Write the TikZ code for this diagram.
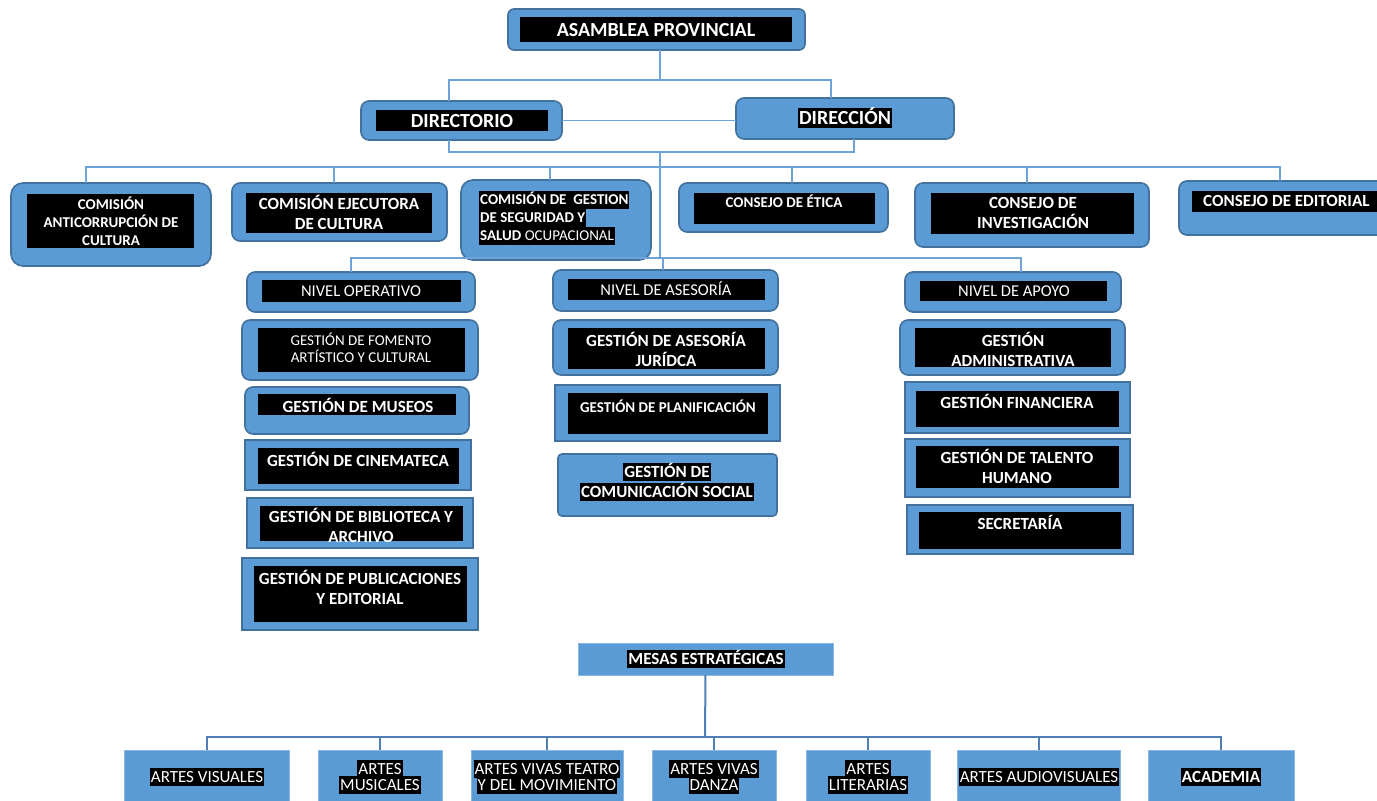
\documentclass[tikz,border=0pt]{standalone}
\usepackage{fontspec}
\setmainfont{Carlito}
\definecolor{fillb}{HTML}{5B9BD5}
\definecolor{bdr}{HTML}{41719C}
\definecolor{lineb}{HTML}{6FA3D8}
\definecolor{lined}{HTML}{4F7FB5}
\newcommand\mkbox[6]{\node[#6, minimum width={(#4-#2)*1pt}, minimum height={(#5-#3)*1pt}] (#1) at ({(#2+#4)/2},{(#3+#5)/2}) {};}
\tikzset{
  rb/.style={draw=bdr, fill=fillb, line width=1.6pt, rounded corners=8pt, inner sep=0pt, outer sep=0pt},
  sq/.style={draw=bdr, fill=fillb, line width=1.6pt, inner sep=0pt, outer sep=0pt},
  fl/.style={draw=fillb!70!white, fill=fillb, line width=0.8pt, inner sep=0pt, outer sep=0pt},
  blk/.style={fill=black, draw=none, inner sep=0pt, outer sep=0pt},
  tb/.style={text=white, font=\bfseries\fontsize{17}{19.5}\selectfont, align=center, inner sep=0pt},
  tbs/.style={text=white, font=\bfseries\fontsize{15}{18}\selectfont, align=center, inner sep=0pt},
  tr/.style={text=white, font=\fontsize{16.5}{19}\selectfont, align=center, inner sep=0pt},
  hl/.style={fill=black, text=white, inner xsep=1pt, inner ysep=0pt, text height=13.8pt, text depth=3.4pt},
  hl20/.style={hl, text height=16pt, text depth=4pt, font=\bfseries\fontsize{20}{24}\selectfont},
  hl15/.style={hl, text height=13pt, text depth=5pt, font=\bfseries\fontsize{15}{18}\selectfont},
  conn/.style={draw=lineb, line width=1.3pt},
  connd/.style={draw=lined, line width=2pt},
}
\begin{document}
\begin{tikzpicture}[x=1pt,y=-1pt]
\useasboundingbox (0,0) rectangle (1377,801);
\fill[white] (0,0) rectangle (1377,801);

% ---------- outer boxes ----------
\mkbox{asam}{508}{9}{805}{50}{rb, rounded corners=6pt}
\mkbox{dtor}{361}{101}{562}{140}{rb}
\mkbox{dcion}{736}{98}{954}{139}{rb}
\mkbox{c1}{11}{183}{211}{266}{rb, rounded corners=12pt}
\mkbox{c2}{232}{183}{447}{241}{rb}
\mkbox{c3}{461}{180}{651}{260}{rb, rounded corners=12pt}
\mkbox{c4}{679}{183}{888}{232}{rb}
\mkbox{c5}{915}{183}{1149}{247}{rb}
\mkbox{c6}{1179}{181}{1390}{235}{rb}
\mkbox{nop}{247}{272}{475}{312}{rb}
\mkbox{nas}{553}{270}{778}{311}{rb}
\mkbox{nap}{905}{272}{1121}{312}{rb}
\mkbox{g1}{242}{320}{478}{380}{rb}
\mkbox{g2}{245}{387}{469}{434}{rb}
\mkbox{g3}{245}{440}{471}{490}{sq}
\mkbox{g4}{247}{498}{473}{548}{sq}
\mkbox{g5}{242}{558}{478}{630}{sq}
\mkbox{a1}{553}{320}{778}{375}{rb}
\mkbox{a2}{555}{385}{780}{441}{sq}
\mkbox{a3}{558}{454}{777}{516}{rb, rounded corners=4pt}
\mkbox{p1}{900}{320}{1125}{375}{rb}
\mkbox{p2}{905}{382}{1130}{433}{sq}
\mkbox{p3}{905}{439}{1130}{497}{sq}
\mkbox{p4}{907}{505}{1133}{554}{sq}
\mkbox{mesas}{578}{643}{833}{675}{fl}
\mkbox{b1}{124}{750}{289}{812}{fl}
\mkbox{b2}{318}{750}{442}{812}{fl}
\mkbox{b3}{471}{750}{623}{812}{fl}
\mkbox{b4}{652}{750}{776}{812}{fl}
\mkbox{b5}{806}{750}{930}{812}{fl}
\mkbox{b6}{957}{750}{1120}{812}{fl}
\mkbox{b7}{1148}{750}{1294}{812}{fl}

% ---------- inner black panels ----------
\mkbox{asamI}{520}{17}{792}{42}{blk}
\mkbox{dtorI}{376}{110}{548}{131}{blk}
\mkbox{c1I}{27}{194}{194}{248}{blk}
\mkbox{c2I}{246}{193}{432}{233}{blk}
\mkbox{c4I}{694}{193}{875}{224}{blk}
\mkbox{c5I}{931}{193}{1134}{234}{blk}
\mkbox{c6I}{1192}{191}{1390}{212}{blk}
\mkbox{nopI}{262}{280}{461}{302}{blk}
\mkbox{nasI}{568}{279}{765}{300}{blk}
\mkbox{napI}{920}{281}{1107}{301}{blk}
\mkbox{g1I}{258}{328}{465}{372}{blk}
\mkbox{g2I}{258}{394}{456}{415}{blk}
\mkbox{g3I}{258}{448}{459}{484}{blk}
\mkbox{g4I}{260}{506}{463}{541}{blk}
\mkbox{g5I}{254}{566}{467}{622}{blk}
\mkbox{a1I}{568}{328}{765}{369}{blk}
\mkbox{a2I}{568}{393}{768}{434}{blk}
\mkbox{p1I}{915}{328}{1111}{367}{blk}
\mkbox{p2I}{916}{391}{1119}{427}{blk}
\mkbox{p3I}{916}{446}{1119}{488}{blk}
\mkbox{p4I}{919}{512}{1121}{549}{blk}

% ---------- connectors ----------
\coordinate (j1) at (660,80);
\coordinate (j2) at (660,152);
\coordinate (j3) at (660,167);
\coordinate (j4) at (660,258);
\coordinate (j5) at (705,737);
\draw[conn] ([xshift=3.5pt]asam.south) -- (j1);
\draw[conn] ([xshift=-12.5pt]dtor.north) |- (j1) -| ([xshift=-14pt]dcion.north);
\draw[conn] (dtor.east) -- (dtor.east -| dcion.west);
\draw[conn] ([xshift=-12.5pt]dtor.south) |- (j2) -| ([xshift=9pt]dcion.south);
\draw[conn] (j2) -- (j4);
\draw[conn] ([xshift=-25pt]c1.north) |- (j3) -| ([xshift=-4.5pt]c6.north);
\draw[conn] ([xshift=-5.5pt]c2.north) -- ([xshift=-5.5pt]c2.north |- j3);
\draw[conn] ([xshift=-6pt]c3.north) -- ([xshift=-6pt]c3.north |- j3);
\draw[conn] ([xshift=8.5pt]c4.north) -- ([xshift=8.5pt]c4.north |- j3);
\draw[conn] ([xshift=-5pt]c5.north) -- ([xshift=-5pt]c5.north |- j3);
\draw[conn] ([xshift=-10pt]nop.north) |- (j4) -| ([xshift=8pt]nap.north);
\draw[conn] ([xshift=-2.5pt]nas.north) -- ([xshift=-2.5pt]nas.north |- j4);
\draw[connd] (mesas.south) -- (j5);
\draw[connd] (b1.north) |- (j5) -| (b7.north);
\foreach \b in {b2,b3,b4,b5,b6} \draw[connd] (\b.north) -- (\b.north |- j5);

% ---------- texts ----------
\node[tb, font=\bfseries\fontsize{20}{24}\selectfont] (t1) at (656,30) {ASAMBLEA PROVINCIAL};
\node[tb, font=\bfseries\fontsize{20}{24}\selectfont] (t2) at (462,121) {DIRECTORIO};
\node[hl20] (t3) at (845,118) {DIRECCIÓN};
\node[tb, font=\bfseries\fontsize{15}{18}\selectfont] (t4) at (111,221) {COMISIÓN\\ANTICORRUPCIÓN DE\\CULTURA};
\node[tb] (t5) at (339,212.5) {COMISIÓN EJECUTORA\\DE CULTURA};
\node[hl15, anchor=west] (t6a) at (479,200) {COMISIÓN DE\ \ GESTION};
\node[hl15, anchor=west] (t6b) at (479,218) {DE SEGURIDAD Y};
\node[hl15, anchor=west] (t6c) at (479,236) {SALUD {\mdseries OCUPACIONAL}};
\node[tbs] (t7) at (784,201) {CONSEJO DE ÉTICA};
\node[tb] (t8) at (1033,213) {CONSEJO DE\\INVESTIGACIÓN};
\node[tb, anchor=west] (t9) at (1203,201) {CONSEJO DE EDITORIAL};
\node[tr] (t10) at (361,291) {NIVEL OPERATIVO};
\node[tr] (t11) at (666,289) {NIVEL DE ASESORÍA};
\node[tr] (t12) at (1014,291) {NIVEL DE APOYO};
\node[tr, font=\fontsize{15}{17}\selectfont] (t13) at (361,347.5) {GESTIÓN DE FOMENTO\\ARTÍSTICO Y CULTURAL};
\node[tb] (t14) at (358,405) {GESTIÓN DE MUSEOS};
\node[tb] (t15) at (358,459) {GESTIÓN DE CINEMATECA};
\node[tb] (t16) at (361,525.5) {GESTIÓN DE BIBLIOTECA Y\\ARCHIVO};
\node[tb] (t17) at (360,587.5) {GESTIÓN DE PUBLICACIONES\\Y EDITORIAL};
\node[tb] (t18) at (666,349.5) {GESTIÓN DE ASESORÍA\\JURÍDCA};
\node[tbs] (t19) at (668,406) {GESTIÓN DE PLANIFICACIÓN};
\node[hl, font=\bfseries\fontsize{17}{20}\selectfont] (t20a) at (667,472) {GESTIÓN DE};
\node[hl, font=\bfseries\fontsize{17}{20}\selectfont] (t20b) at (667,492) {COMUNICACIÓN SOCIAL};
\node[tb] (t21) at (1013,349.5) {GESTIÓN\\ADMINISTRATIVA};
\node[tb] (t22) at (1017,401) {GESTIÓN FINANCIERA};
\node[tb] (t23) at (1017,466.5) {GESTIÓN DE TALENTO\\HUMANO};
\node[tb] (t24) at (1020,522) {SECRETARÍA};
\node[hl, font=\bfseries\fontsize{17}{20}\selectfont] (t25) at (706,659) {MESAS ESTRATÉGICAS};
\tikzset{hb/.style={hl, font=\fontsize{17}{20}\selectfont}}
\node[hb] (t26) at (207,777) {ARTES VISUALES};
\node[hb] (t27a) at (380,769) {ARTES};
\node[hb] (t27b) at (380,785) {MUSICALES};
\node[hb] (t28a) at (547,769) {ARTES VIVAS TEATRO};
\node[hb] (t28b) at (547,785) {Y DEL MOVIMIENTO};
\node[hb] (t29a) at (714,769) {ARTES VIVAS};
\node[hb] (t29b) at (714,785) {DANZA};
\node[hb] (t30a) at (868,769) {ARTES};
\node[hb] (t30b) at (868,785) {LITERARIAS};
\node[hb] (t31) at (1039,777) {ARTES AUDIOVISUALES};
\node[hb, font=\bfseries\fontsize{17}{20}\selectfont] (t32) at (1221,777) {ACADEMIA};
\end{tikzpicture}
\end{document}
